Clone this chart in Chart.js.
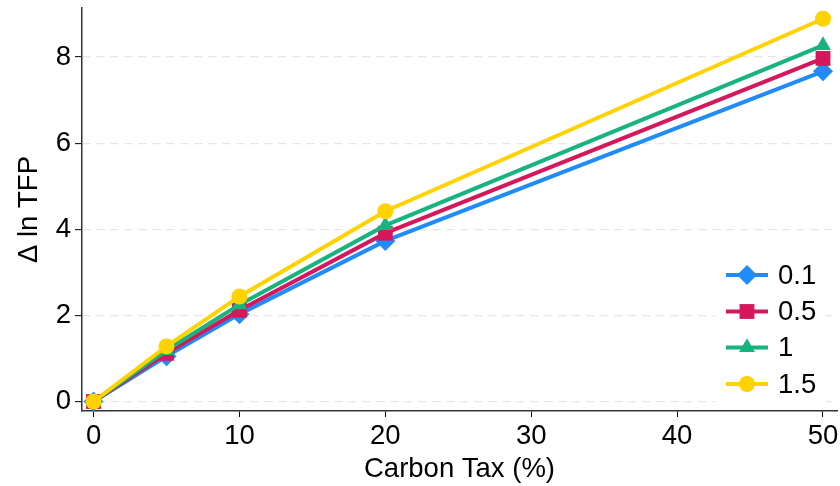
<!DOCTYPE html>
<html>
<head>
<meta charset="utf-8">
<script src="https://cdn.jsdelivr.net/npm/chart.js@4/dist/chart.umd.min.js"></script>
<style>
  html, body { margin: 0; padding: 0; background: #fff; }
  #wrap { width: 840px; height: 486px; }
</style>
</head>
<body>
<div id="wrap"><canvas id="c" width="840" height="486"></canvas></div>
<script>
// Carbon tax rates (%) on the x axis
const taxRates = [0, 5, 10, 20, 50];
// Series names (elasticity values)
const seriesNames = ['0.1', '0.5', '1', '1.5'];
// Change in log TFP for each series
const tfp01 = [0, 1.05, 2.03, 3.73, 7.67];
const tfp05 = [0, 1.12, 2.12, 3.91, 7.97];
const tfp1  = [0, 1.19, 2.25, 4.09, 8.27];
const tfp15 = [0, 1.28, 2.44, 4.42, 8.89];
// Axis tick values
const xTicks = [0, 10, 20, 30, 40, 50];
const yTicks = [0, 2, 4, 6, 8];

const FONT = '"Liberation Sans", Helvetica, Arial, sans-serif';
const FS = 27.5;
const colors = ['#1f8cf7', '#d5175b', '#17b47e', '#ffd200'];
const styles = ['rectRot', 'rect', 'triangle', 'circle'];
const radii = [10, 10.5, 9.2, 8];
const values = [tfp01, tfp05, tfp1, tfp15];

const datasets = values.map((vals, i) => ({
  label: seriesNames[i],
  data: taxRates.map((x, j) => ({ x: x, y: vals[j] })),
  borderColor: colors[i],
  backgroundColor: colors[i],
  borderWidth: 4,
  pointStyle: styles[i],
  pointRadius: radii[i],
  pointBorderWidth: 0,
  pointBackgroundColor: colors[i],
  order: values.length - 1 - i,
  tension: 0,
  clip: false
}));

// Drop the automatic label overhang padding so the plot area follows layout.padding
function noScalePadding(scale) {
  scale.paddingLeft = 0;
  scale.paddingRight = 0;
  scale.paddingTop = 0;
  scale.paddingBottom = 0;
}

// Legend drawn inside the plot area, lower right
const insideLegend = {
  id: 'insideLegend',
  beforeDatasetsDraw(chart) {
    const ctx = chart.ctx;
    ctx.save();
    ctx.fillStyle = '#ffffff';
    ctx.fillRect(715, 255, 111, 152);
    ctx.restore();
  },
  afterDraw(chart) {
    const ctx = chart.ctx;
    const rowY = [275, 311.5, 347.5, 384];
    ctx.save();
    chart.data.datasets.forEach((ds, i) => {
      const y = rowY[i];
      ctx.strokeStyle = ds.borderColor;
      ctx.lineWidth = 4;
      ctx.beginPath();
      ctx.moveTo(726, y);
      ctx.lineTo(768, y);
      ctx.stroke();
      ctx.save();
      ctx.fillStyle = ds.pointBackgroundColor;
      ctx.strokeStyle = ds.pointBackgroundColor;
      ctx.lineWidth = 0;
      Chart.helpers.drawPoint(ctx, {
        pointStyle: ds.pointStyle,
        radius: ds.pointRadius,
        rotation: 0,
        borderWidth: 0
      }, 747, y);
      ctx.restore();
      ctx.fillStyle = '#000';
      ctx.font = FS + 'px ' + FONT;
      ctx.textAlign = 'left';
      ctx.textBaseline = 'middle';
      ctx.fillText(ds.label, 778, y + 1);
    });
    ctx.restore();
  }
};

new Chart(document.getElementById('c'), {
  type: 'line',
  data: { datasets: datasets },
  plugins: [insideLegend],
  options: {
    responsive: false,
    animation: false,
    devicePixelRatio: 1,
    layout: { autoPadding: false, padding: { left: 0, top: 8, right: 3, bottom: 0 } },
    plugins: { legend: { display: false }, tooltip: { enabled: false } },
    scales: {
      x: {
        type: 'linear',
        min: -0.79,
        max: 50.96,
        afterBuildTicks(scale) { scale.ticks = xTicks.map(v => ({ value: v })); },
        afterFit(scale) { scale.height = 75; noScalePadding(scale); },
        ticks: {
          color: '#000',
          font: { family: FONT, size: FS },
          padding: 3,
          maxRotation: 0,
          autoSkip: false
        },
        grid: {
          display: true,
          drawOnChartArea: false,
          drawTicks: true,
          tickLength: 6,
          tickColor: '#000',
          tickWidth: 1
        },
        border: { display: true, color: '#333', width: 1.5 },
        title: {
          display: true,
          text: 'Carbon Tax (%)',
          color: '#000',
          font: { family: FONT, size: FS },
          padding: { top: 0, bottom: 0 }
        }
      },
      y: {
        type: 'linear',
        min: -0.22,
        max: 9.14,
        afterBuildTicks(scale) { scale.ticks = yTicks.map(v => ({ value: v })); },
        afterFit(scale) { scale.width = 82; noScalePadding(scale); },
        ticks: {
          color: '#000',
          font: { family: FONT, size: FS },
          padding: 4
        },
        grid: {
          display: true,
          drawOnChartArea: true,
          color: '#e6e6e6',
          lineWidth: 1.3,
          drawTicks: true,
          tickLength: 7,
          tickColor: '#000',
          tickWidth: 1
        },
        border: { display: true, color: '#333', width: 1.5, dash: [8, 6] },
        title: {
          display: true,
          text: 'Δ ln TFP',
          color: '#000',
          font: { family: FONT, size: FS },
          padding: { top: 13, bottom: 0 }
        }
      }
    }
  }
});
</script>
</body>
</html>
